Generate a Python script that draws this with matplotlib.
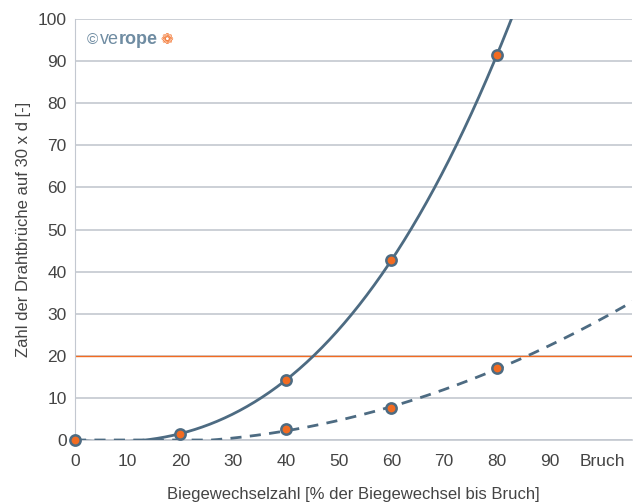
import matplotlib.pyplot as plt
import numpy as np

plt.rcParams['font.family'] = ['Liberation Sans', 'DejaVu Sans']

# measured points (Biegewechsel % vs. Drahtbrueche)
x_solid = [0, 20, 40, 60, 80]
y_solid = [0, 1.5, 14.3, 42.7, 91.5]
x_dash = [0, 40, 60, 80]
y_dash = [0, 2.5, 7.5, 17.0]
limit = 20

xticks = [0, 10, 20, 30, 40, 50, 60, 70, 80, 90, 100]
xticklabels = ['0', '10', '20', '30', '40', '50', '60', '70', '80', '90', 'Bruch']

blue = '#4d6b82'
orange = '#f26b21'
grid_c = '#c3c8d0'
txt_c = '#444444'

fig = plt.figure(figsize=(6.38, 5.04), dpi=100)
ax = fig.add_axes([75/638, 1-440/504, 557/638, 421/504])

# trend lines (polynomial fits of the points)
xx = np.linspace(0, 106, 300)
p_solid = np.polyfit(x_solid, y_solid, 3)
p_dash = np.polyfit(x_dash, y_dash, 2)
ax.plot(xx, np.polyval(p_solid, xx), color=blue, lw=2, zorder=3)
ax.plot(xx, np.clip(np.polyval(p_dash, xx), 0, None), color=blue, lw=2, ls=(0, (4, 3)), zorder=3)

ax.axhline(limit, color=orange, lw=1, zorder=2)

ax.scatter(x_solid, y_solid, s=55, color=orange, edgecolor=blue, linewidth=1.8, zorder=5, clip_on=False)
ax.scatter(x_dash[1:], y_dash[1:], s=55, color=orange, edgecolor=blue, linewidth=1.8, zorder=5, clip_on=False)

ax.set_xlim(0, 105.6)
ax.set_ylim(0, 100)
ax.set_yticks(range(0, 101, 10))
ax.set_xticks(xticks)
ax.set_xticklabels(xticklabels)
ax.yaxis.grid(True, color=grid_c, lw=1.2)
ax.set_axisbelow(True)
for s in ['top', 'right']:
    ax.spines[s].set_visible(False)
ax.spines['left'].set_color(grid_c)
ax.spines['bottom'].set_color(grid_c)
ax.spines['bottom'].set_linewidth(1.2)
ax.tick_params(length=0, labelsize=12.5, colors=txt_c, pad=6)
ax.tick_params(axis='x', pad=10)

ax.set_xlabel('Biegewechselzahl [% der Biegewechsel bis Bruch]', fontsize=12, color=txt_c, labelpad=13)
ax.set_ylabel('Zahl der Drahtbrüche auf 30 x d [-]', fontsize=12, color=txt_c, labelpad=5)

# logo
fig.text(87/638, 1-40/504, '©', fontsize=11, color='#6f8ca2', va='center')
fig.text(100/638, 1-40/504, 've', fontsize=13, color='#6f8ca2', va='center')
fig.text(119/638, 1-40/504, 'rope', fontsize=13, color='#6f8ca2', va='center', fontweight='bold')
fig.text(160/638, 1-40/504, '❁', fontsize=11, color=orange, va='center', family='DejaVu Sans')

fig.savefig('out.png', dpi=100)
